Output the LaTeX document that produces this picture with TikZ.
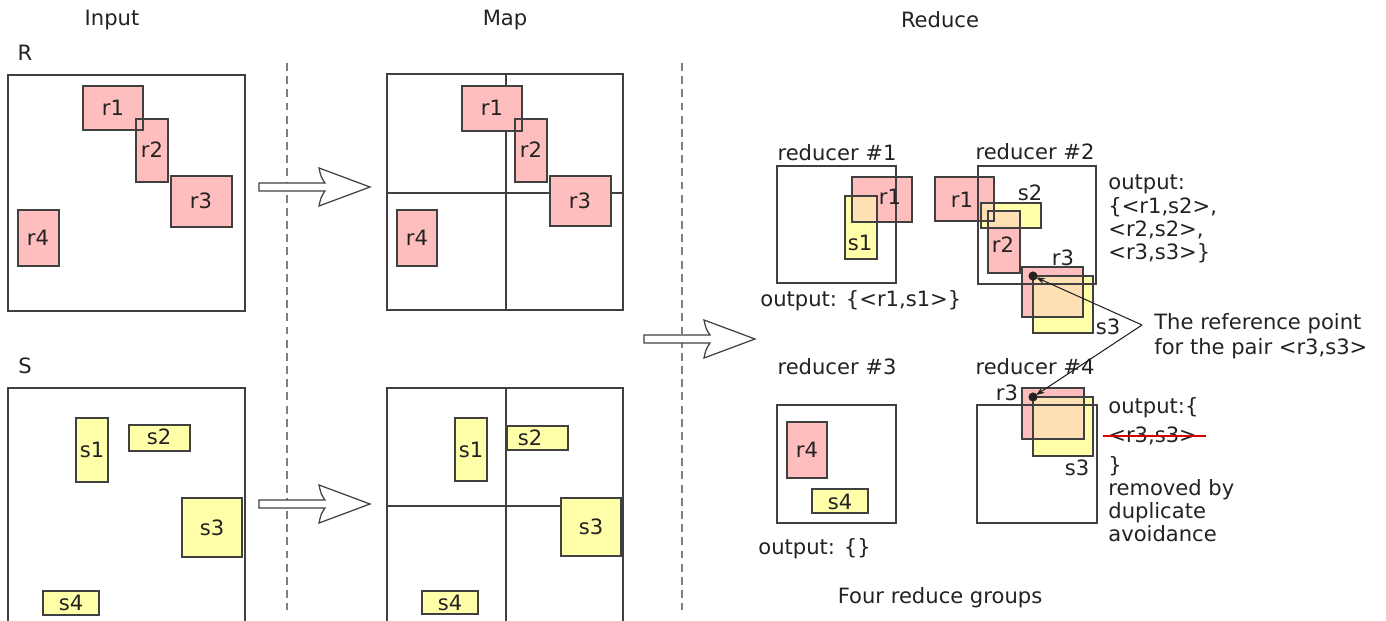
\documentclass[tikz,border=0pt]{standalone}
\usepackage{fontspec}
\setmainfont{DejaVu Sans}
\usetikzlibrary{arrows.meta}
\definecolor{relpink}{RGB}{255,190,190}
\definecolor{relyellow}{RGB}{255,255,170}
\definecolor{relpeach}{RGB}{255,224,180}
\definecolor{edgegray}{RGB}{64,64,64}
\definecolor{txtgray}{RGB}{34,34,34}
\tikzset{
  lbl/.style={font=\fontsize{12}{13.2}\selectfont, text=txtgray, inner sep=0pt},
  edge/.style={draw=edgegray, line width=0.6pt},
  frame/.style={draw=edgegray, line width=0.8pt},
  divider/.style={draw=gray, line width=0.7pt, dash pattern=on 4.5pt off 3pt},
  bigarrow/.style={draw=edgegray, line width=0.7pt, fill=white},
  pointer/.style={draw=txtgray, line width=0.6pt, -{Stealth[length=5pt,width=3.5pt]}, shorten >=2pt},
}
\newcommand{\hollowarrow}[2]{%
  \draw[bigarrow, shift={(#1,#2)}] (0,-4) -- (66,-4) .. controls (62,-10) .. (60,-19) -- (111,0)
    -- (60,19) .. controls (62,10) .. (66,4) -- (0,4) -- cycle;}

\begin{document}
\begin{tikzpicture}[x=0.02cm, y=-0.02cm]
  \useasboundingbox (0,0) rectangle (1386,621);
  % headings
  \node[lbl] (hinput) at (112,20) {Input};
  \node[lbl] (hmap) at (505,20) {Map};
  \node[lbl] (hreduce) at (940,20) {Reduce};
  \draw[divider] (287,63) -- (287,610);
  \draw[divider] (682,63) -- (682,610);

  % input R
  \node[lbl] (lr) at (25,53) {R};
  \draw[frame] (8,75) rectangle (245,311);
  \draw[edge, fill=relpink] (83,86) rectangle (143,130) (136,119) rectangle (168,182)
    (171,176) rectangle (232,227) (18,210) rectangle (59,266);
  \node[lbl] (ir1) at (113,108) {r1};
  \node[lbl] (ir2) at (152,150) {r2};
  \node[lbl] (ir3) at (201,201) {r3};
  \node[lbl] (ir4) at (38,238) {r4};

  % input S
  \node[lbl] (ls) at (25,366) {S};
  \draw[frame] (8,621) -- (8,388) -- (245,388) -- (245,621);
  \draw[edge, fill=relyellow] (76,418) rectangle (108,482) (129,425) rectangle (190,451)
    (182,498) rectangle (242,557) (43,591) rectangle (99,615);
  \node[lbl] (is1) at (92,450) {s1};
  \node[lbl] (is2) at (159,437) {s2};
  \node[lbl] (is3) at (212,528) {s3};
  \node[lbl] (is4) at (71,603) {s4};

  \hollowarrow{259}{187}
  \hollowarrow{259}{504}

  % map R
  \draw[frame] (387,74) rectangle (623,310) (506,74) -- (506,310) (387,193) -- (623,193);
  \draw[edge, fill=relpink] (462,86) rectangle (522,131) (515,119) rectangle (547,182)
    (550,176) rectangle (611,226) (397,210) rectangle (437,266);
  \node[lbl] (mr1) at (492,108) {r1};
  \node[lbl] (mr2) at (531,150) {r2};
  \node[lbl] (mr3) at (580,201) {r3};
  \node[lbl] (mr4) at (417,238) {r4};

  % map S
  \draw[frame] (387,621) -- (387,388) -- (623,388) -- (623,621) (506,388) -- (506,621) (387,506) -- (623,506);
  \draw[edge, fill=relyellow] (455,418) rectangle (487,481) (507,426) rectangle (568,450)
    (561,498) rectangle (621,556) (422,591) rectangle (478,614);
  \node[lbl] (ms1) at (471,450) {s1};
  \node[lbl] (ms2) at (530,438) {s2};
  \node[lbl] (ms3) at (591,527) {s3};
  \node[lbl] (ms4) at (450,603) {s4};

  \hollowarrow{644}{339}

  % reducer #1
  \node[lbl] (red1) at (837,153) {reducer \#1};
  \fill[relpink] (852,177) rectangle (912,222);
  \fill[relyellow] (845,196) rectangle (877,259);
  \fill[relpeach] (852,196) rectangle (877,222);
  \draw[edge] (852,177) rectangle (912,222) (845,196) rectangle (877,259);
  \draw[frame] (777,166) rectangle (896,283);
  \node[lbl] (a1r1) at (890,197) {r1};
  \node[lbl] (a1s1) at (860,243) {s1};
  \node[lbl, anchor=west] (out1) at (760,301) {output: \{<r1,s1>\}};

  % reducer #2
  \node[lbl] (red2) at (1035,152) {reducer \#2};
  \fill[relpink] (935,177) rectangle (994,221) (988,211) rectangle (1020,273) (1022,267) rectangle (1083,317);
  \fill[relyellow] (981,203) rectangle (1041,228) (1033,276) rectangle (1093,333);
  \fill[relpeach] (981,203) rectangle (994,221) (988,211) rectangle (1020,228) (1033,276) rectangle (1083,317);
  \draw[edge] (935,177) rectangle (994,221) (988,211) rectangle (1020,273) (1022,267) rectangle (1083,317)
    (981,203) rectangle (1041,228) (1033,276) rectangle (1093,333);
  \draw[frame] (978,166) rectangle (1096,284);
  \node[lbl] (a2r1) at (962,200) {r1};
  \node[lbl] (a2s2) at (1030,193) {s2};
  \node[lbl] (a2r2) at (1003,245) {r2};
  \node[lbl] (a2r3) at (1063,258) {r3};
  \node[lbl] (a2s3) at (1108,327) {s3};
  \coordinate (dot2) at (1033,276);
  \fill[txtgray] (dot2) circle (2.6pt);
  \node[lbl, anchor=west, align=left] (out2) at (1108,219) {output:\\\{<r1,s2>,\\<r2,s2>,\\<r3,s3>\}};

  % reducer #3
  \node[lbl] (red3) at (837,367) {reducer \#3};
  \draw[frame] (777,405) rectangle (896,523);
  \draw[edge, fill=relpink] (787,422) rectangle (827,478);
  \draw[edge, fill=relyellow] (812,489) rectangle (868,513);
  \node[lbl] (a3r4) at (807,450) {r4};
  \node[lbl] (a3s4) at (840,502) {s4};
  \node[lbl, anchor=west] (out3) at (758,549) {output: \{\}};

  % reducer #4
  \node[lbl] (red4) at (1035,367) {reducer \#4};
  \fill[relpink] (1022,388) rectangle (1084,439);
  \fill[relyellow] (1033,397) rectangle (1093,456);
  \fill[relpeach] (1033,397) rectangle (1084,439);
  \draw[edge] (1022,388) rectangle (1084,439) (1033,397) rectangle (1093,456);
  \draw[frame] (977,405) rectangle (1097,523);
  \node[lbl] (a4r3) at (1007,393) {r3};
  \node[lbl] (a4s3) at (1077,468) {s3};
  \coordinate (dot4) at (1033,397);
  \fill[txtgray] (dot4) circle (2.6pt);
  \node[lbl, anchor=west] (out4a) at (1108,408) {output:\{};
  \node[lbl, anchor=west] (out4b) at (1108,436) {<r3,s3>};
  \draw[red!85!black, line width=0.8pt] ([xshift=-3pt]out4b.west) -- ([xshift=5pt]out4b.east);
  \node[lbl, anchor=west, align=left] (out4c) at (1108,499) {\}\\removed by\\duplicate\\avoidance};

  % reference point
  \coordinate (refvertex) at (1142,325);
  \node[lbl, anchor=west, align=left, font=\fontsize{12}{14}\selectfont] (reftext) at (1154,336)
    {The reference point\\for the pair <r3,s3>};
  \draw[pointer] (refvertex) -- (dot2);
  \draw[pointer] (refvertex) -- (dot4);

  \node[lbl] (groups) at (940,598) {Four reduce groups};
\end{tikzpicture}
\end{document}
